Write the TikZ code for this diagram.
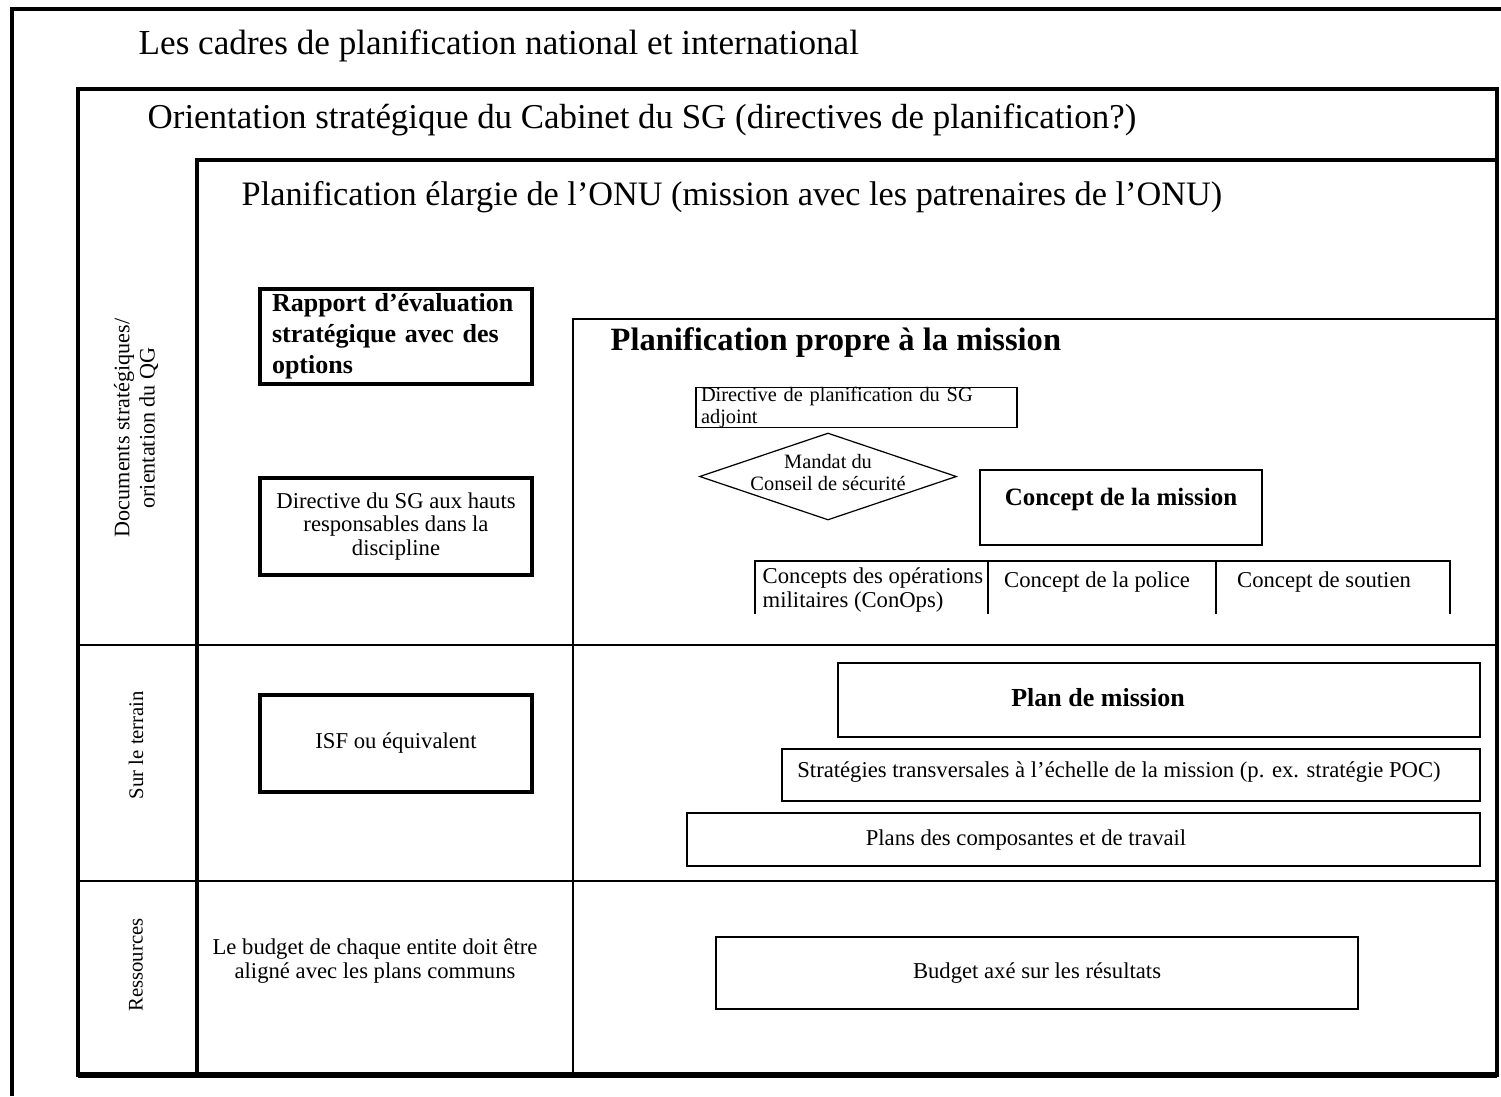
\documentclass[tikz,border=0pt]{standalone}
\usepackage{fontspec}
\setmainfont{Liberation Serif}
\usetikzlibrary{shapes.geometric}
\tikzset{
    tnode/.style = {align=center, inner sep=0pt, text centered},
    title_node/.style = {tnode, anchor=west, font=\fontsize{10}{12}\selectfont},
    side_node/.style = {tnode, rotate=90, font=\fontsize{5.9}{6.5}\selectfont},
    small_text/.style = {font=\fontsize{6.45}{6.8}\selectfont},
    tiny_text/.style = {font=\fontsize{5.8}{6}\selectfont},
    bold_text/.style = {font=\fontsize{7.4}{8.8}\selectfont\bfseries},
    heavy_box/.style = {tnode, rectangle, draw=black, line width=0.9pt, minimum width=27.2mm},
    plan_box/.style = {tnode, rectangle, draw=black, line width=0.55pt},
    thin_box/.style = {tnode, rectangle, draw=black, line width=0.35pt},
    frame_line/.style = {line width=0.9pt},
    row_line/.style = {line width=0.6pt},
    thin_line/.style = {line width=0.35pt}
}
\begin{document}
\begin{tikzpicture}[x=0.1mm, y=-0.1mm]
    \useasboundingbox (0,0) rectangle (1501,1096);

    \coordinate (outer_sw) at (12,1096);
    \coordinate (outer_nw) at (12,9);
    \coordinate (outer_ne) at (1501,9);
    \coordinate (orient_nw) at (78,89);
    \coordinate (orient_se) at (1497,1075);
    \coordinate (onu_nw) at (197,160);
    \coordinate (msn_nw) at (573,319);
    \coordinate (row1) at (78,645);
    \coordinate (row2) at (78,881);

    \draw[frame_line] (outer_sw) -- (outer_nw) -- (outer_ne);
    \draw[frame_line] (orient_nw) rectangle (orient_se);
    \draw[line width=1.5pt] (orient_se) -- (orient_se -| orient_nw);
    \draw[frame_line] (onu_nw |- orient_se) -- (onu_nw) -- (onu_nw -| orient_se);
    \draw[row_line] (msn_nw |- orient_se) -- (msn_nw) -- (msn_nw -| orient_se);
    \draw[row_line] (row1) -- (row1 -| orient_se);
    \draw[row_line] (row2) -- (row2 -| orient_se);

    \node[title_node] (cadres) at (138,46) {Les cadres de planification national et international};
    \node[title_node, font=\fontsize{9.93}{12}\selectfont] (orient) at (147,120) {Orientation stratégique du Cabinet du SG (directives de planification?)};
    \node[title_node, font=\fontsize{9.75}{12}\selectfont] (onu) at (241,197) {Planification élargie de l’ONU (mission avec les patrenaires de l’ONU)};
    \node[title_node, font=\fontsize{9.25}{12}\selectfont\bfseries] (propre) at (610,343) {Planification propre à la mission};

    \node[side_node, font=\fontsize{6.3}{7.2}\selectfont] (docs) at (136,428) {Documents stratégiques/\\orientation du QG};
    \node[side_node] (terrain) at (136,745) {Sur le terrain};
    \node[side_node] (ressources) at (136,965) {Ressources};

    \node[heavy_box, bold_text, align=left, text width=24.8mm, minimum height=9.5mm] (rapport) at (396,336.5) {Rapport d’évaluation\\stratégique avec des\\options};
    \node[heavy_box, small_text, minimum height=9.7mm] (directive_sg) at (396,526.5) {Directive du SG aux hauts\\responsables dans la\\discipline};
    \node[heavy_box, small_text, minimum height=9.7mm] (isf) at (396,743.5) {ISF ou équivalent};
    \node[tnode, small_text] (budget_entite) at (375,961) {Le budget de chaque entite doit être\\aligné avec les plans communs};

    \node[thin_box, tiny_text, align=left, text width=31.1mm, inner xsep=0.5mm, minimum height=3.9mm] (directive_adj) at (856.5,407.5) {Directive de planification du SG\\adjoint};
    \node[diamond, draw=black, line width=0.35pt, tnode, tiny_text, aspect=2.95, minimum width=25.7mm, minimum height=8.7mm] (mandat) at (828,476.5) {};
    \node[tnode, tiny_text] (mandat_txt) at ([yshift=0.4mm]mandat.center) {Mandat du\\Conseil de sécurité};
    \node[plan_box, font=\fontsize{7.1}{8.5}\selectfont\bfseries, minimum width=28.2mm, text height=3mm, text depth=3.5mm, inner ysep=0.5mm] (concept) at (1121,507.5) {Concept de la mission};

    \coordinate (cops_nw) at (755,561);
    \coordinate (cops_se) at (1450,614);
    \coordinate (cops_a) at (988,561);
    \coordinate (cops_b) at (1216,561);
    \draw[thin_line] (cops_nw |- cops_se) -- (cops_nw) -- (cops_se |- cops_nw) -- (cops_se);
    \draw[thin_line] (cops_a) -- (cops_a |- cops_se);
    \draw[thin_line] (cops_b) -- (cops_b |- cops_se);
    \node[tnode, small_text, align=left, anchor=west] (conops) at (762,590) {Concepts des opérations\\militaires (ConOps)};
    \node[tnode, small_text] (police) at (1097,582) {Concept de la police};
    \node[tnode, small_text] (soutien) at (1324,582) {Concept de soutien};

    \node[plan_box, minimum width=64.2mm, minimum height=7.4mm] (plan) at (1159,700) {};
    \node[tnode, bold_text] (plan_txt) at (1098,698) {Plan de mission};
    \node[plan_box, minimum width=69.8mm, minimum height=5.2mm] (strat) at (1131,775) {};
    \node[tnode, small_text] (strat_txt) at (1119,772) {Stratégies transversales à l'échelle de la mission (p. ex. stratégie POC)};
    \node[plan_box, minimum width=79.3mm, minimum height=5.3mm] (plans) at (1083.5,839.5) {};
    \node[tnode, small_text] (plans_txt) at (1026,840) {Plans des composantes et de travail};
    \node[plan_box, small_text, minimum width=64.2mm, minimum height=7.2mm] (budget_rbb) at (1037,973) {Budget axé sur les résultats};
\end{tikzpicture}
\end{document}
